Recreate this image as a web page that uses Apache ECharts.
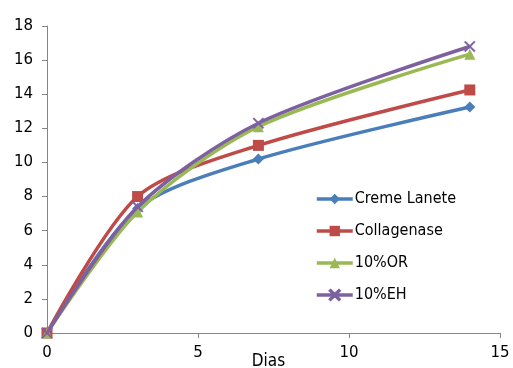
<!DOCTYPE html>
<html>
<head>
<meta charset="utf-8">
<script src="https://cdn.jsdelivr.net/npm/echarts@6/dist/echarts.min.js"></script>
<style>
  html, body { margin: 0; padding: 0; background: #fff; }
  #chart { width: 513px; height: 368px; }
</style>
</head>
<body>
<div id="chart"></div>
<script>
// Days of measurement
const dias = [0, 3, 7, 14];

// Series values per day
const cremeLanete = [0, 7.3, 10.2, 13.25];
const collagenase = [0, 8.0, 11.0, 14.25];
const or10 = [0, 7.1, 12.1, 16.35];
const eh10 = [0, 7.4, 12.3, 16.8];

const seriesNames = ['Creme Lanete', 'Collagenase', '10%OR', '10%EH'];
const seriesColors = ['#4A7EBB', '#BE4B48', '#98B954', '#7D60A0'];

const symbols = ['diamond', 'rect', 'triangle', 'path://M1,0 L5,4 L9,0 L10,1 L6,5 L10,9 L9,10 L5,6 L1,10 L0,9 L4,5 L0,1 Z'];
const symbolSizes = [11, 11, 11, 11];
const allValues = [cremeLanete, collagenase, or10, eh10];

const chart = echarts.init(document.getElementById('chart'));
const font = 'DejaVu Sans';

chart.setOption({
  animation: false,
  grid: { left: 47, right: 13, top: 26, bottom: 35, outerBoundsMode: 'none', containLabel: false },
  legend: {
    orient: 'vertical',
    left: 315,
    top: 191,
    padding: 0,
    itemGap: 16,
    itemWidth: 36,
    itemHeight: 13,
    lineStyle: { width: 3.5 },
    textStyle: { fontFamily: 'DejaVu Sans Condensed', fontSize: 16, color: '#000', padding: [0, 0, 0, -3] },
    data: seriesNames
  },
  xAxis: {
    type: 'value',
    min: 0, max: 15, interval: 5,
    name: 'Dias',
    nameLocation: 'middle',
    nameGap: 20,
    nameMoveOverlap: false,
    nameTextStyle: { fontFamily: 'DejaVu Sans Condensed', fontSize: 17, color: '#000', verticalAlign: 'top', padding: [0, 10, 0, 0] },
    axisLine: { lineStyle: { color: '#868686' } },
    axisTick: { show: true, length: 5, lineStyle: { color: '#868686' } },
    axisLabel: { fontFamily: font, fontSize: 15, color: '#000', margin: 13 },
    splitLine: { show: false }
  },
  yAxis: {
    type: 'value',
    min: 0, max: 18, interval: 2,
    axisLine: { show: true, lineStyle: { color: '#868686' } },
    axisTick: { show: true, length: 5, lineStyle: { color: '#868686' } },
    axisLabel: { fontFamily: font, fontSize: 15, color: '#000', margin: 14 },
    splitLine: { show: false }
  },
  series: seriesNames.map((name, i) => ({
    name: name,
    type: 'line',
    smooth: 0.28,
    data: dias.map((d, j) => [d, allValues[i][j]]),
    symbol: symbols[i],
    symbolSize: symbolSizes[i],
    showAllSymbol: true,
    lineStyle: { color: seriesColors[i], width: 3.5 },
    itemStyle: { color: seriesColors[i], borderColor: seriesColors[i], borderWidth: i === 3 ? 0.5 : 0 },
    z: 2 + i
  }))
});
</script>
</body>
</html>
